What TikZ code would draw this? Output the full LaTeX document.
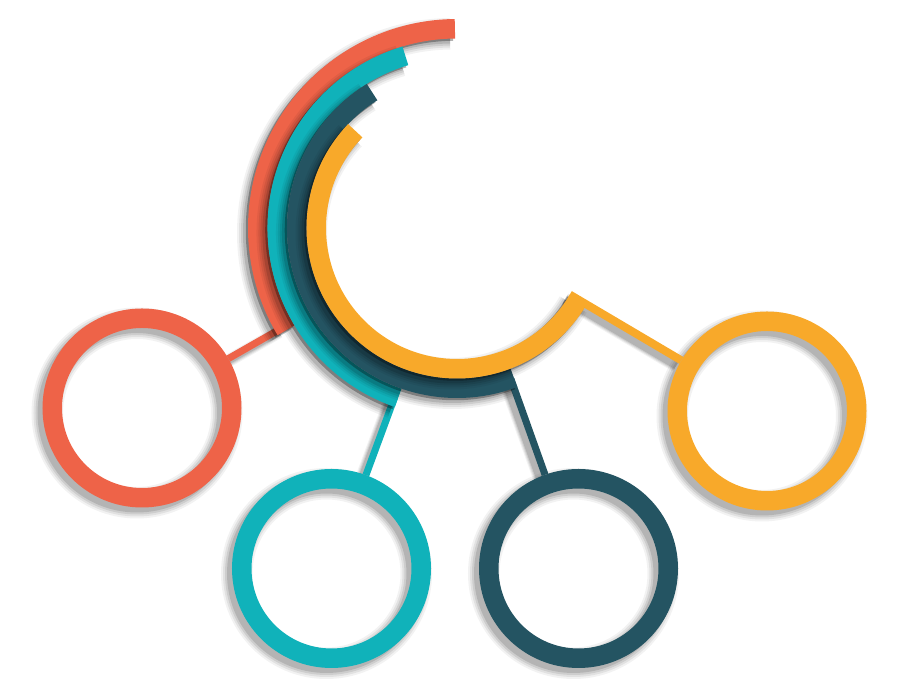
\documentclass[tikz,border=0pt]{standalone}
\usetikzlibrary{calc}
\definecolor{cCoral}{HTML}{EE6348}
\definecolor{cTeal}{HTML}{10B2BA}
\definecolor{cDark}{HTML}{245462}
\definecolor{cYellow}{HTML}{F8A92A}
\pgfdeclarelayer{bg}
\pgfsetlayers{bg,main}
\tikzset{
  ringnode/.style={circle, draw=#1, line width=19.5pt, minimum size=179.5pt, inner sep=0pt},
  conn/.style={draw=#1, line width=7pt},
  band/.style={draw=#1, line width=19.5pt},
  shadowshift/.style={transform canvas={shift={(-5pt,-5pt)}}, black},
  tightshift/.style={transform canvas={shift={(-2pt,-2pt)}}, black},
}
\newcommand\myShadowArc[3]{%
  \foreach \e/\o in {12/0.05,8/0.07,4/0.09,0/0.12}{%
    \draw[shadowshift, opacity=\o, line width=19.5pt+\e pt]
      ([shift={(#1:#3)}]C) arc[start angle=#1, end angle=#2, radius=#3];
  }
  \draw[tightshift, opacity=0.3, line width=20pt]
      ([shift={(#1:#3)}]C) arc[start angle=#1, end angle=#2, radius=#3];
  }
\newcommand\myShadowRing[1]{%
  \foreach \e/\o in {12/0.05,8/0.07,4/0.09,0/0.12}{%
    \draw[shadowshift, opacity=\o, line width=19.5pt+\e pt] (#1) circle[radius=89.75];
  }}
\newcommand\myShadowLine[3]{%
  \foreach \e/\o in {6/0.05,4/0.07,2/0.09,0/0.12}{%
    \draw[shadowshift, opacity=\o, line width=#3+\e pt] (#1) -- (#2);
  }}
\begin{document}
\begin{tikzpicture}[x=1pt,y=1pt]
\useasboundingbox (0,0) rectangle (900,700);
\coordinate (C) at (457,472);
\coordinate (cR) at (142,292);
\coordinate (tR) at (331.5,131.5);
\coordinate (dR) at (578.5,131.5);
\coordinate (yR) at (767,289);
\coordinate (coralEnd) at ($(C)!199.25pt!(cR)$);
\coordinate (tealEnd) at ($(C)!179.75pt!(tR)$);
\coordinate (darkEnd) at ($(C)!160.25pt!(dR)$);
\coordinate (yellowEnd) at ($(C)!131pt!(yR)$);

% rings
\node[ringnode=cCoral] (coralRing) at (cR) {};
\node[ringnode=cTeal] (tealRing) at (tR) {};
\node[ringnode=cDark] (darkRing) at (dR) {};
\node[ringnode=cYellow] (yellowRing) at (yR) {};

\begin{pgfonlayer}{bg}
  \myShadowRing{cR}
  \myShadowRing{tR}
  \myShadowRing{dR}
  \myShadowRing{yR}
  \myShadowLine{coralRing}{coralEnd}{7pt}
  \myShadowLine{tealRing}{tealEnd}{7pt}
  \myShadowLine{darkRing}{darkEnd}{7pt}
  \myShadowLine{yellowRing}{yellowEnd}{8pt}
\end{pgfonlayer}

% connectors
\draw[conn=cCoral] (coralRing) -- (coralEnd);
\draw[conn=cTeal] (tealRing) -- (tealEnd);
\draw[conn=cDark] (darkRing) -- (darkEnd);
\draw[conn=cYellow, line width=8pt] (yellowRing) -- (yellowEnd);

% arcs, outermost first
\myShadowArc{90.6}{210.9}{199.25}
\draw[band=cCoral] ([shift={(90.6:199.25)}]C) arc[start angle=90.6, end angle=210.9, radius=199.25];
\myShadowArc{106.7}{250.9}{179.75}
\draw[band=cTeal] ([shift={(106.7:179.75)}]C) arc[start angle=106.7, end angle=250.9, radius=179.75];
\myShadowArc{122}{290.8}{160.25}
\draw[band=cDark] ([shift={(122:160.25)}]C) arc[start angle=122, end angle=290.8, radius=160.25];
\myShadowArc{136.3}{329.45}{140.75}
\draw[band=cYellow] ([shift={(136.3:140.75)}]C) arc[start angle=136.3, end angle=329.45, radius=140.75];
\end{tikzpicture}
\end{document}
